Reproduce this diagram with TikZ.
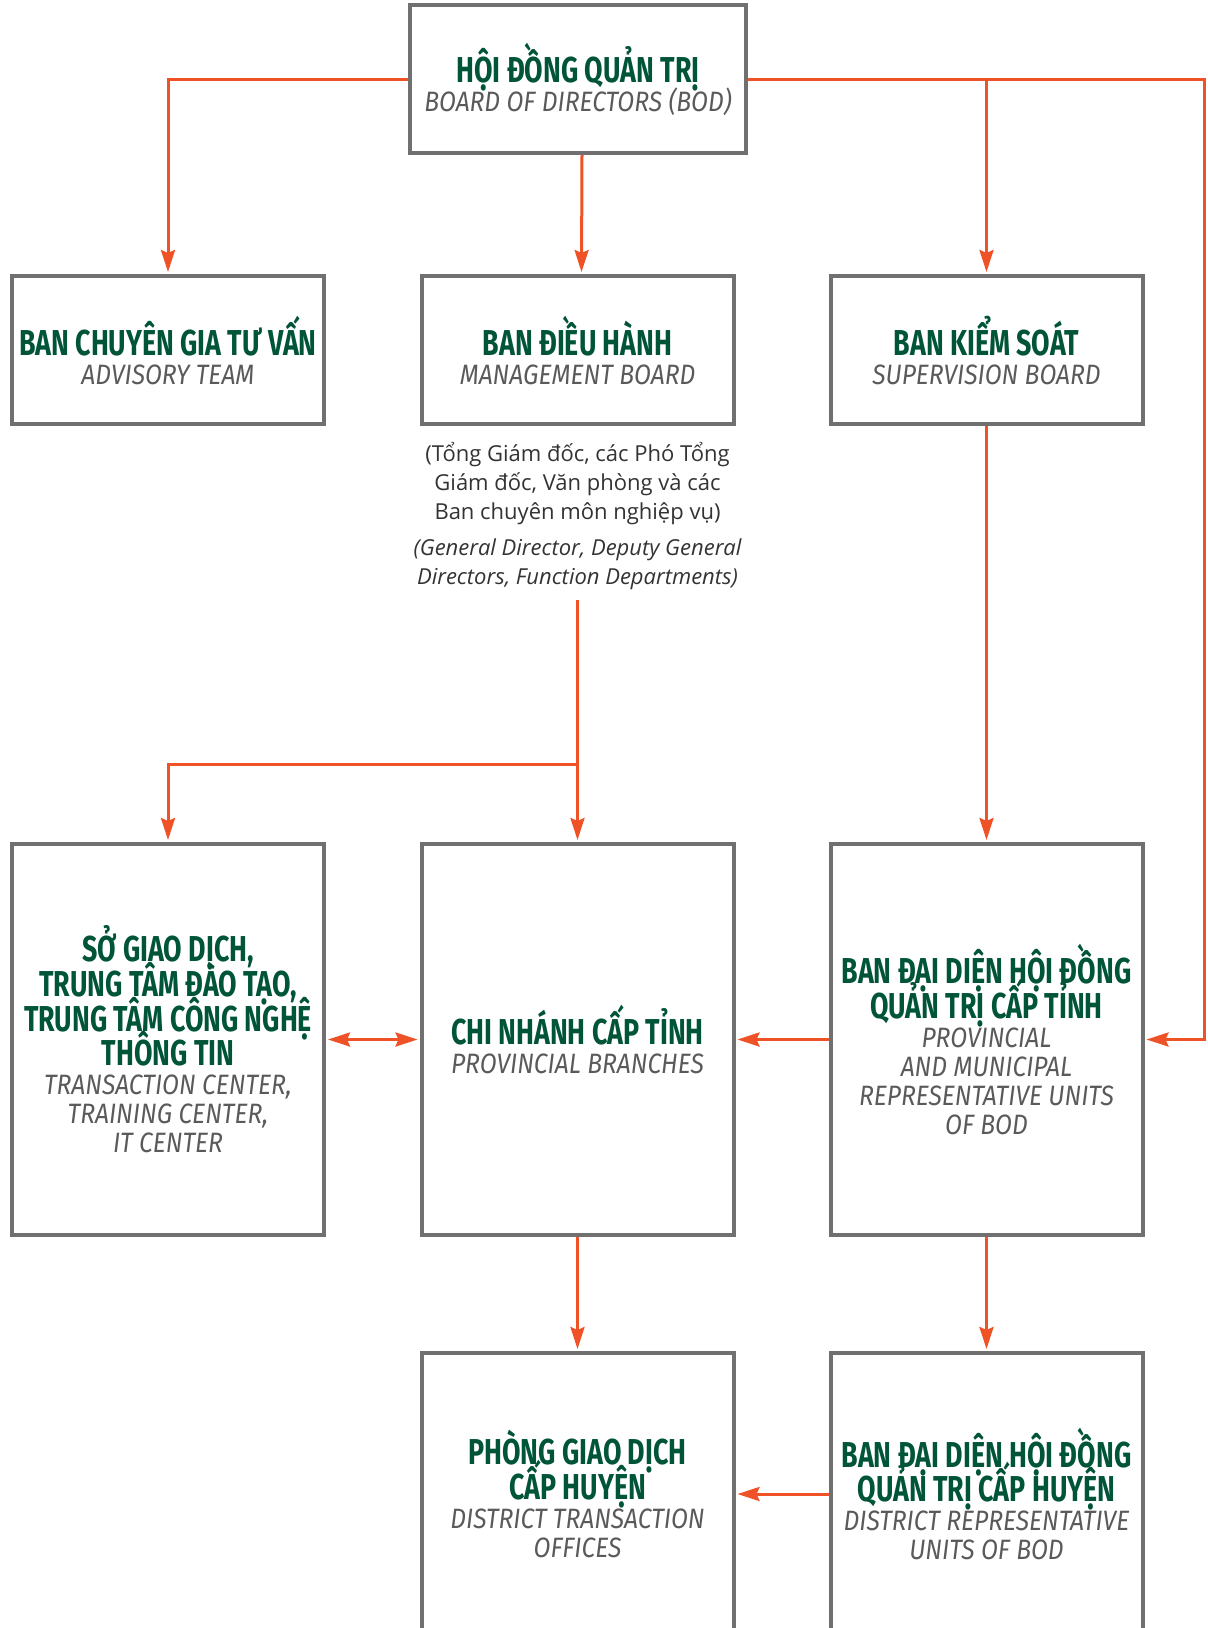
\documentclass[tikz,border=0pt]{standalone}
\usepackage{fontspec}
\usepackage{xcolor}
\usetikzlibrary{arrows.meta,positioning}
\setmainfont{Open Sans}
\newfontfamily\headfont[FakeStretch=0.745]{Fira Sans}
\newfontfamily\subfont[FakeStretch=0.88]{Fira Sans}
\definecolor{hdgreen}{RGB}{0,84,55}
\definecolor{subgray}{RGB}{90,90,90}
\definecolor{boxgray}{RGB}{112,112,112}
\definecolor{linkorange}{RGB}{240,82,40}
\newcommand{\hd}{\headfont\bfseries\fontsize{18}{14.5}\selectfont\color{hdgreen}}
\newcommand{\sub}{\subfont\itshape\fontsize{14}{14.5}\selectfont\color{subgray}}
\lineskiplimit=-100pt

\begin{document}
\begin{tikzpicture}[x=0.5pt,y=-0.5pt,
    unit/.style={draw=boxgray,line width=2pt,fill=white,align=center,
                 font=\fontsize{14}{14.5}\selectfont,
                 minimum width=156pt,minimum height=74pt,inner sep=2pt},
    tall/.style={unit,minimum height=195.5pt},
    low/.style={unit,minimum height=141pt},
    link/.style={draw=linkorange,line width=1.5pt,shorten >=1pt,
                 -{Stealth[length=11pt,width=7pt,inset=1.5pt]}}]

  \fill[white] (0,0) rectangle (1207,1628);
  \useasboundingbox (0,0) rectangle (1207,1628);

  \node[unit,minimum width=168pt] (bod) at (578,79) {\hd HỘI ĐỒNG QUẢN TRỊ\\\sub BOARD OF DIRECTORS (BOD)};

  \node[unit] (adv) at (168,350) {\hd BAN CHUYÊN GIA TƯ VẤN\\\sub ADVISORY TEAM};
  \node[unit] (mgmt) at (577.5,350) {\hd BAN ĐIỀU HÀNH\\\sub MANAGEMENT BOARD};
  \node[unit] (sup) at (986.5,350) {\hd BAN KIỂM SOÁT\\\sub SUPERVISION BOARD};

  \node[align=center,inner sep=3pt,text=black!80,font=\fontsize{11}{14.5}\selectfont] (note) at (577.5,516)
    {(Tổng Giám đốc, các Phó Tổng\\Giám đốc, Văn phòng và các\\Ban chuyên môn nghiệp vụ)\\[3.5pt]
     \itshape (General Director, Deputy General\\\itshape Directors, Function Departments)};

  \node[tall] (cen) at (168,1039.5) {\hd SỞ GIAO DỊCH,\\[2.8pt]\hd TRUNG TÂM ĐÀO TẠO,\\[2.8pt]\hd TRUNG TÂM CÔNG NGHỆ\\[2.8pt]\hd THÔNG TIN\\
    \sub TRANSACTION CENTER,\\\sub TRAINING CENTER,\\\sub IT CENTER};
  \node[tall] (br) at (577.5,1039.5) {\hd CHI NHÁNH CẤP TỈNH\\\sub PROVINCIAL BRANCHES};
  \node[tall] (rep) at (986.5,1039.5) {\hd BAN ĐẠI DIỆN HỘI ĐỒNG\\[2.8pt]\hd QUẢN TRỊ CẤP TỈNH\\
    \sub PROVINCIAL\\\sub AND MUNICIPAL\\\sub REPRESENTATIVE UNITS\\\sub OF BOD};

  \node[low] (tx) at (577.5,1494) {\hd PHÒNG GIAO DỊCH\\[2.8pt]\hd CẤP HUYỆN\\\sub DISTRICT TRANSACTION\\\sub OFFICES};
  \node[low] (drep) at (986.5,1494) {\hd BAN ĐẠI DIỆN HỘI ĐỒNG\\[2.8pt]\hd QUẢN TRỊ CẤP HUYỆN\\\sub DISTRICT REPRESENTATIVE\\\sub UNITS OF BOD};

  \coordinate (split) at (577.5,764);
  \coordinate (rail) at (1204,79);

  \draw[link] (bod.west) -| (adv.north);
  \draw[link] ([xshift=2pt]bod.south) -- ([xshift=2pt]mgmt.north);
  \draw[link] (bod.east) -| (sup.north);
  \draw[link] (bod.east) -- (rail) |- (rep.east);
  \draw[link] (sup.south) -- (rep.north);
  \draw[link,shorten <=2pt] (note.south) -- (br.north);
  \draw[link] (split) -| (cen.north);
  \draw[link,shorten <=1pt,{Stealth[length=11pt,width=7pt,inset=1.5pt]}-{Stealth[length=11pt,width=7pt,inset=1.5pt]}] (cen.east) -- (br.west);
  \draw[link] (rep.west) -- (br.east);
  \draw[link] (br.south) -- (tx.north);
  \draw[link] (rep.south) -- (drep.north);
  \draw[link] (drep.west) -- (tx.east);

\end{tikzpicture}
\end{document}
